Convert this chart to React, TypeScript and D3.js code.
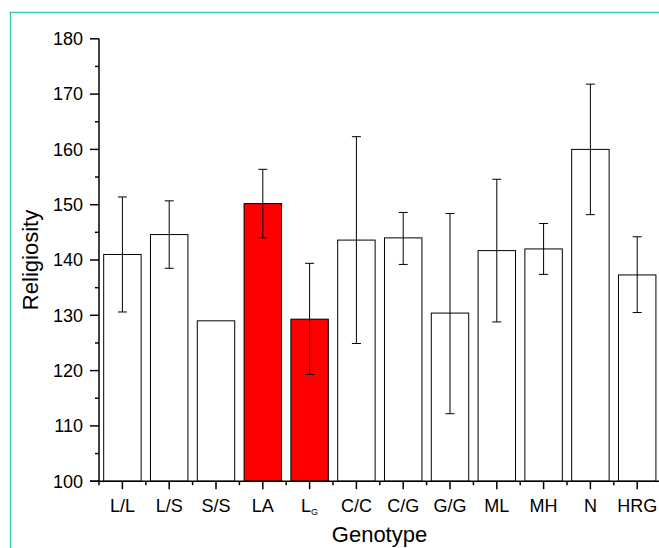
import React from "react";
import * as d3 from "d3";

const categories = ["L/L", "L/S", "S/S", "LA", "LG", "C/C", "C/G", "G/G", "ML", "MH", "N", "HRG"];
const means = [141.0, 144.6, 129.0, 150.2, 129.3, 143.6, 144.0, 130.4, 141.7, 142.0, 160.0, 137.3];
const errHigh: (number | null)[] = [151.4, 150.7, null, 156.4, 139.4, 162.3, 148.6, 148.4, 154.6, 146.6, 171.8, 144.2];
const errLow: (number | null)[] = [130.6, 138.5, null, 144.0, 119.3, 124.9, 139.2, 112.2, 128.8, 137.4, 148.2, 130.5];
const highlighted = ["LA", "LG"];
const yTicks = [100, 110, 120, 130, 140, 150, 160, 170, 180];
const yMinorTicks = [105, 115, 125, 135, 145, 155, 165, 175];

const W = 659;
const H = 548;

export default function App() {
  const x = d3.scaleLinear().domain([0.5, 12.5]).range([99, 660.6]);
  const y = d3.scaleLinear().domain([100, 180]).range([481.2, 38.8]);
  const step = x(2) - x(1);
  const bw = step * 0.8;
  const capW = 9;
  const font = "'Liberation Sans', Arial, sans-serif";
  const minorX = d3.range(0, 13).map((i) => i + 0.5);

  return (
    <svg
      width={W}
      height={H}
      style={{ position: "absolute", left: 0, top: 0, background: "#fff" }}
      fontFamily={font}
    >
      <rect x={0} y={0} width={W} height={H} fill="#fff" />
      <rect x={10.5} y={12.5} width={800} height={800} fill="none" stroke="#2ECDB4" strokeWidth={1.4} />

      {/* bars */}
      {categories.map((c, i) => {
        const cx = x(i + 1);
        return (
          <rect
            key={c}
            x={cx - bw / 2}
            y={y(means[i])}
            width={bw}
            height={y(100) - y(means[i])}
            fill={highlighted.includes(c) ? "#FF0000" : "#fff"}
            stroke="#000"
            strokeWidth={1}
          />
        );
      })}

      {/* error bars */}
      {categories.map((c, i) => {
        const hi = errHigh[i];
        const lo = errLow[i];
        if (hi == null || lo == null) return null;
        const cx = x(i + 1);
        return (
          <g key={"e" + c} stroke="#000" strokeWidth={1}>
            <line x1={cx} x2={cx} y1={y(hi)} y2={y(lo)} />
            <line x1={cx - capW / 2} x2={cx + capW / 2} y1={y(hi)} y2={y(hi)} />
            <line x1={cx - capW / 2} x2={cx + capW / 2} y1={y(lo)} y2={y(lo)} />
          </g>
        );
      })}

      {/* y axis */}
      <g stroke="#000" strokeWidth={1.5}>
        <line x1={x(0.5)} x2={x(0.5)} y1={y(180)} y2={y(100)} />
        {yTicks.map((t) => (
          <line key={"yt" + t} x1={x(0.5) - 9} x2={x(0.5)} y1={y(t)} y2={y(t)} />
        ))}
        {yMinorTicks.map((t) => (
          <line key={"ym" + t} x1={x(0.5) - 4} x2={x(0.5)} y1={y(t)} y2={y(t)} />
        ))}
      </g>
      {yTicks.map((t) => (
        <text
          key={"yl" + t}
          x={x(0.5) - 16}
          y={y(t)}
          dy="0.35em"
          textAnchor="end"
          fontSize={18}
          fill="#000"
        >
          {t}
        </text>
      ))}

      {/* x axis */}
      <g stroke="#000" strokeWidth={1.5}>
        <line x1={x(0.5) - 9} x2={W + 5} y1={y(100)} y2={y(100)} />
        {categories.map((c, i) => (
          <line key={"xt" + c} x1={x(i + 1)} x2={x(i + 1)} y1={y(100)} y2={y(100) + 8} />
        ))}
        {minorX.map((t) => (
          <line key={"xm" + t} x1={x(t)} x2={x(t)} y1={y(100)} y2={y(100) + 4} />
        ))}
      </g>
      {categories.map((c, i) =>
        c === "LG" ? (
          <text key={"xl" + c} x={x(i + 1)} y={512} textAnchor="middle" fontSize={18} fill="#000">
            L
            <tspan fontSize={9} dy={3}>
              G
            </tspan>
          </text>
        ) : (
          <text key={"xl" + c} x={x(i + 1)} y={512} textAnchor="middle" fontSize={18} fill="#000">
            {c}
          </text>
        )
      )}

      {/* axis titles */}
      <text x={(x(0.5) + 660) / 2} y={542} textAnchor="middle" fontSize={22} fill="#000">
        Genotype
      </text>
      <text
        transform={`translate(38, ${(y(100) + y(180)) / 2}) rotate(-90)`}
        textAnchor="middle"
        fontSize={22}
        fill="#000"
      >
        Religiosity
      </text>
    </svg>
  );
}
